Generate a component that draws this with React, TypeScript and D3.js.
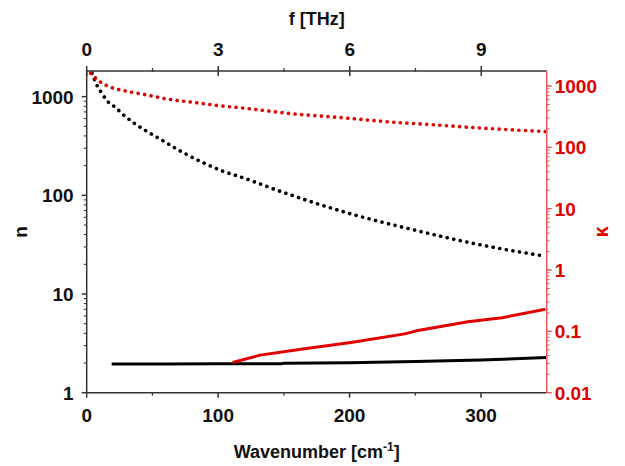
import React from 'react';
import * as d3 from 'd3';

const W = 625;
const H = 466;
const margin = { top: 71, right: 80, bottom: 73.3, left: 86.7 };

// n, dotted (left axis)
const nDotWn = [4, 8, 12, 15, 22, 29, 37, 45, 57, 73, 88, 103, 120, 148, 199, 249, 300, 348];
const nDotVal = [1730, 1290, 1060, 925, 775, 637, 528, 452, 364, 273, 216, 177, 149, 109, 66, 44.6, 31.4, 24.3];

// kappa, dotted (right axis)
const kDotWn = [3, 10, 19, 29, 45, 62, 80, 100, 120, 155, 193, 237, 257, 295, 349];
const kDotVal = [1620, 1180, 945, 836, 719, 611, 546, 481, 436, 356, 306, 254, 239, 210, 181];

// n, solid (left axis)
const nLineWn = [19, 60, 100, 148, 150, 200, 250, 300, 350];
const nLineVal = [1.95, 1.95, 1.96, 1.97, 1.99, 2.01, 2.07, 2.14, 2.27];

// kappa, solid (right axis)
const kLineWn = [111, 132, 163, 201, 242, 252, 290, 316, 349];
const kLineVal = [0.031, 0.041, 0.051, 0.066, 0.091, 0.103, 0.144, 0.167, 0.229];

const xTicks = [0, 100, 200, 300];
const xMinor = [50, 150, 250];
const fTicks = [0, 3, 6, 9];
const fMinor = [1.5, 4.5, 7.5];
const nTicks = [1, 10, 100, 1000];
const kTicks = [0.01, 0.1, 1, 10, 100, 1000];

const RED = '#e10000';
const AXIS_RED = '#e85a5a';
const DARK = '#333';
const FONT = '"Liberation Sans", Arial, sans-serif';

const minorLog = (lo: number, hi: number) => {
  const out: number[] = [];
  for (let d = lo; d < hi; d *= 10) for (let m = 2; m <= 9; m++) out.push(d * m);
  return out;
};

export default function App() {
  const x0 = margin.left;
  const x1 = W - margin.right + 1.7;
  const y0 = margin.top;
  const y1 = H - margin.bottom;

  const x = d3.scaleLinear().domain([0, 350]).range([x0, x1]);
  const xf = d3.scaleLinear().domain([0, 350 / 33.356]).range([x0, x1]);
  const yN = d3.scaleLog().domain([1, 1820]).range([y1, y0]);
  const yK = d3.scaleLog().domain([0.01, 1760]).range([y1, y0]);

  const mk = (wn: number[], v: number[], ys: d3.ScaleLogarithmic<number, number>, curve: d3.CurveFactory) =>
    d3
      .line<number>()
      .x((d) => x(d))
      .y((_, i) => ys(v[i]))
      .curve(curve)(wn) as string;

  const nMinor = minorLog(1, 1000).filter((v) => yN(v) >= y0);
  const kMinor = minorLog(0.01, 1000).filter((v) => yK(v) >= y0);

  return (
    <svg width={W} height={H} style={{ position: 'absolute', left: 0, top: 0, background: '#fff' }} fontFamily={FONT} fontWeight="bold">
      <defs>
        <clipPath id="plot">
          <rect x={x0} y={y0 - 3} width={x1 - x0 + 2} height={y1 - y0 + 3} />
        </clipPath>
      </defs>

      <g clipPath="url(#plot)" fill="none">
        <path d={mk(nLineWn, nLineVal, yN, d3.curveLinear)} stroke="#000" strokeWidth={3} />
        <path d={mk(kLineWn, kLineVal, yK, d3.curveLinear)} stroke={RED} strokeWidth={3} />
        <path d={mk(nDotWn, nDotVal, yN, d3.curveMonotoneX)} stroke="#000" strokeWidth={3.6} strokeLinecap="round" strokeDasharray="0.1 6.6" />
        <path d={mk(kDotWn, kDotVal, yK, d3.curveMonotoneX)} stroke={RED} strokeWidth={3.6} strokeLinecap="round" strokeDasharray="0.1 6.5" />
      </g>

      {/* bottom axis */}
      <line x1={x0} x2={x1} y1={y1} y2={y1} stroke={DARK} strokeWidth={1.5} />
      {xTicks.map((t) => (
        <g key={'bx' + t}>
          <line x1={x(t)} x2={x(t)} y1={y1} y2={y1 + 5} stroke={DARK} strokeWidth={1.5} />
          <text x={x(t)} y={y1 + 29} textAnchor="middle" fontSize={19} fill="#111">{t}</text>
        </g>
      ))}
      {xMinor.map((t) => (
        <line key={'bm' + t} x1={x(t)} x2={x(t)} y1={y1} y2={y1 + 3} stroke={DARK} strokeWidth={1.2} />
      ))}
      <text x={(x0 + x1) / 2} y={458} textAnchor="middle" fontSize={18} fill="#111">
        Wavenumber [cm<tspan dy={-7} fontSize={12}>-1</tspan><tspan dy={7}>]</tspan>
      </text>

      {/* top axis */}
      <line x1={x0} x2={x1} y1={y0} y2={y0} stroke={DARK} strokeWidth={1.5} />
      {fTicks.map((t) => (
        <g key={'tf' + t}>
          <line x1={xf(t)} x2={xf(t)} y1={y0 - 5} y2={y0 + 5} stroke={DARK} strokeWidth={1.5} />
          <text x={xf(t)} y={y0 - 15} textAnchor="middle" fontSize={19} fill="#111">{t}</text>
        </g>
      ))}
      {fMinor.map((t) => (
        <line key={'tm' + t} x1={xf(t)} x2={xf(t)} y1={y0 - 3} y2={y0 + 1} stroke={DARK} strokeWidth={1.2} />
      ))}
      <text x={(x0 + x1) / 2} y={25} textAnchor="middle" fontSize={18} fill="#111">f [THz]</text>

      {/* left axis */}
      <line x1={x0} x2={x0} y1={y0} y2={y1} stroke={DARK} strokeWidth={1.5} />
      {nTicks.map((t) => (
        <g key={'ln' + t}>
          <line x1={x0 - 5} x2={x0} y1={yN(t)} y2={yN(t)} stroke={DARK} strokeWidth={1.5} />
          <text x={x0 - 13} y={yN(t) + 7} textAnchor="end" fontSize={19} fill="#111">{t}</text>
        </g>
      ))}
      {nMinor.map((t) => (
        <line key={'lm' + t} x1={x0 - 3} x2={x0} y1={yN(t)} y2={yN(t)} stroke={DARK} strokeWidth={1} />
      ))}
      <text transform={`translate(27,${(y0 + y1) / 2}) rotate(-90)`} textAnchor="middle" fontSize={19} fill="#111">n</text>

      {/* right axis */}
      <line x1={x1} x2={x1} y1={y0} y2={y1} stroke={AXIS_RED} strokeWidth={1.5} />
      {kTicks.map((t) => (
        <g key={'rk' + t}>
          <line x1={x1} x2={x1 + 5} y1={yK(t)} y2={yK(t)} stroke={AXIS_RED} strokeWidth={1.5} />
          <text x={x1 + 8} y={yK(t) + 7} textAnchor="start" fontSize={19} fill={RED}>{t}</text>
        </g>
      ))}
      {kMinor.map((t) => (
        <line key={'rm' + t} x1={x1} x2={x1 + 3} y1={yK(t)} y2={yK(t)} stroke={AXIS_RED} strokeWidth={1} />
      ))}
      <text transform={`translate(608,${(y0 + y1) / 2}) rotate(-90)`} textAnchor="middle" fontSize={20} fill={RED}>κ</text>
    </svg>
  );
}
